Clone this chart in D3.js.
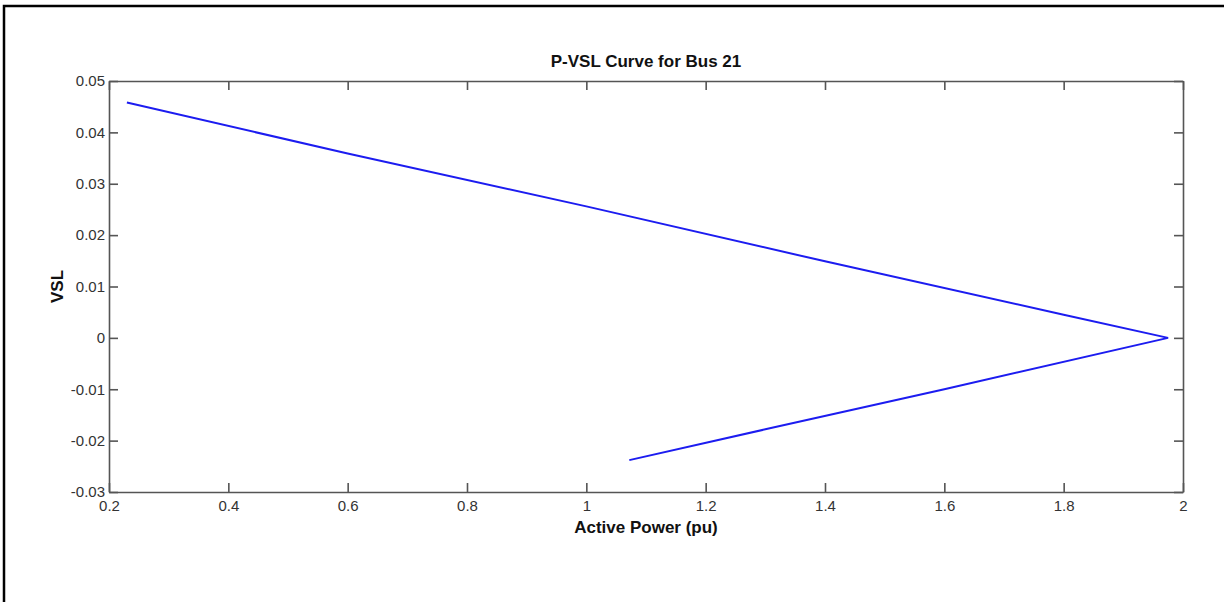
<!DOCTYPE html>
<html lang="en">
<head>
  <meta charset="UTF-8">
  <title>P-VSL Curve for Bus 21</title>
  <script src="https://d3js.org/d3.v7.min.js"></script>
  <style>
    html, body {
      margin: 0;
      padding: 0;
      background: #fff;
    }

    .axis path, .axis line {
      stroke: #555;
      stroke-width: 1.6px;
    }

    .axis text {
      font-family: "Liberation Sans", Arial, sans-serif;
      font-size: 15px;
      fill: #333;
    }

    .label {
      font-family: "Liberation Sans", Arial, sans-serif;
      font-weight: bold;
      font-size: 17px;
      fill: #111;
    }

    .line {
      fill: none;
      stroke: #1c1cf0;
      stroke-width: 2px;
    }
  </style>
</head>
<body>
  <div id="container"></div>

  <script>
    const width = 1228;
    const height = 602;

    // plot box (matlab style axes)
    const margin = {top: 81, right: 45, bottom: 110, left: 109};
    const innerW = width - margin.left - margin.right;
    const innerH = height - margin.top - margin.bottom;

    // data
    const power = [0.23, 0.6, 1.0, 1.4, 1.8, 1.975, 1.6, 1.3, 1.072];
    const vsl = [0.0458, 0.0359, 0.0256, 0.0149, 0.0045, 0.0, -0.0100, -0.0178, -0.0238];

    const xTicks = [0.2, 0.4, 0.6, 0.8, 1, 1.2, 1.4, 1.6, 1.8, 2];
    const yTicks = [-0.03, -0.02, -0.01, 0, 0.01, 0.02, 0.03, 0.04, 0.05];

    // plain hyphen for negatives, like matlab
    const fmt = d => String(+d.toFixed(2));

    const svg = d3.select('#container').append('svg')
                  .attr('width', width).attr('height', height);

    // outer frame (only left and top edges are visible)
    svg.append('path')
      .attr('d', `M4,${height} V6 H1224`)
      .attr('fill', 'none')
      .attr('stroke', '#000')
      .attr('stroke-width', 2.5);

    const g = svg.append('g')
                 .attr('transform', `translate(${margin.left},${margin.top})`);

    const xScale = d3.scaleLinear().domain([0.2, 2]).range([0, innerW]);
    const yScale = d3.scaleLinear().domain([-0.03, 0.05]).range([innerH, 0]);

    const tick = 9;

    g.append('g').attr('class', 'axis')
      .attr('transform', `translate(0,${innerH})`)
      .call(d3.axisBottom(xScale).tickValues(xTicks).tickSizeInner(-tick).tickSizeOuter(0)
        .tickPadding(8).tickFormat(fmt));

    g.append('g').attr('class', 'axis')
      .call(d3.axisTop(xScale).tickValues(xTicks).tickSizeInner(-tick).tickSizeOuter(0).tickFormat(''));

    g.append('g').attr('class', 'axis')
      .call(d3.axisLeft(yScale).tickValues(yTicks).tickSizeInner(-tick).tickSizeOuter(0)
        .tickPadding(4).tickFormat(fmt));

    g.append('g').attr('class', 'axis')
      .attr('transform', `translate(${innerW},0)`)
      .call(d3.axisRight(yScale).tickValues(yTicks).tickSizeInner(-tick).tickSizeOuter(0).tickFormat(''));

    // the curve
    const pts = power.map((p, i) => [p, vsl[i]]);
    const line = d3.line().x(d => xScale(d[0])).y(d => yScale(d[1]));

    g.append('path')
      .datum(pts)
      .attr('class', 'line')
      .attr('d', line);

    // titles
    g.append('text').attr('class', 'label')
      .attr('x', innerW / 2).attr('y', -14)
      .attr('text-anchor', 'middle')
      .text('P-VSL Curve for Bus 21');

    g.append('text').attr('class', 'label')
      .attr('x', innerW / 2).attr('y', innerH + 41)
      .attr('text-anchor', 'middle')
      .text('Active Power (pu)');

    g.append('text').attr('class', 'label')
      .attr('transform', `translate(-52,${innerH / 2}) rotate(-90)`)
      .attr('text-anchor', 'middle')
      .attr('dy', '0.35em')
      .text('VSL');
  </script>
</body>
</html>
